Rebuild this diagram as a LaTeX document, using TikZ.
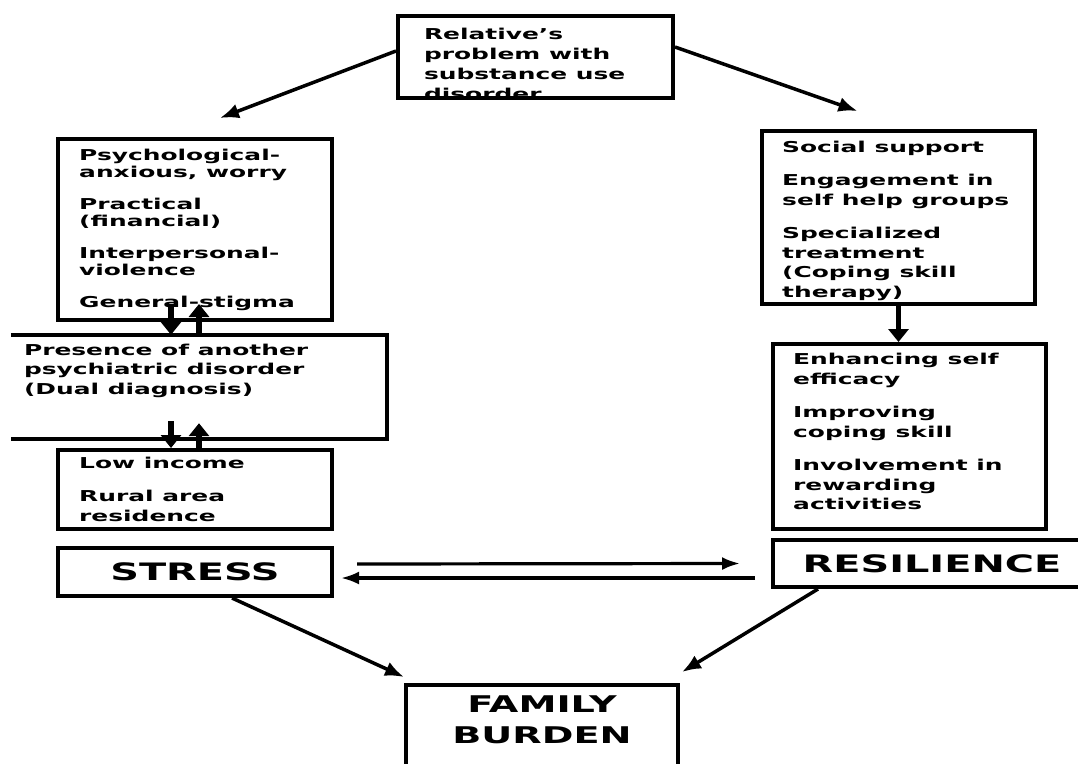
\documentclass[tikz,border=0pt]{standalone}
\usepackage{fontspec}
\newfontfamily\diagfont{DejaVu Sans}[FakeStretch=1.66]
\usetikzlibrary{arrows.meta,positioning}

\begin{document}
\begin{tikzpicture}[x=1pt,y=-1pt,
  box/.style={draw,line width=4pt,minimum width=274pt,inner sep=0pt},
  itemtext/.style={align=left,inner sep=0pt,font=\diagfont\bfseries\fontsize{15}{17.5}\selectfont},
  itemtextwide/.style={itemtext,font=\diagfont\bfseries\fontsize{15}{19.5}\selectfont},
  bigtext/.style={font=\diagfont\bfseries\fontsize{24}{31}\selectfont},
  diagarrow/.style={-{Latex[length=19pt,width=15pt]},line width=3.5pt},
  flowarrow/.style={-{Latex[length=18pt,width=13pt]},line width=3.2pt},
  linkarrow/.style={-{Triangle[length=13pt,width=20pt]},line width=5.5pt}]
\useasboundingbox (0,0) rectangle (1078,763);

% top
\node[box,minimum width=275pt,minimum height=82pt,
  path picture={\node[itemtext,draw=none,minimum width=0pt,minimum height=0pt,font=\diagfont\bfseries\fontsize{15}{20}\selectfont,anchor=north west] (reltext)
    at ([xshift=24pt,yshift=-10pt]path picture bounding box.north west) {Relative’s\\problem with\\substance use\\disorder};}] (rel) at (535.5,57) {};

% stress side
\node[box,minimum height=181pt] (psych) at (195,229.5) {};
\node[itemtext,anchor=west] (psychtext) at ([xshift=23pt]psych.west) {Psychological-\\anxious, worry\\[14pt]Practical\\(financial)\\[14pt]Interpersonal-\\violence\\[14pt]General-stigma};
\node[minimum width=376pt,minimum height=104pt,inner sep=0pt] (presence) at (199,387) {};
\draw[line width=4pt] (presence.north west) -- (presence.north east) -- (presence.south east) -- (presence.south west);
\node[itemtextwide,anchor=north west] (presencetext) at ([xshift=13pt,yshift=-9pt]presence.north west) {Presence of another\\psychiatric disorder\\(Dual diagnosis)};
\node[box,minimum height=79pt] (low) at (195,489.5) {};
\node[itemtext,font=\diagfont\bfseries\fontsize{15}{20}\selectfont,anchor=west] (lowtext) at ([xshift=23pt]low.west) {Low income\\[13pt]Rural area\\residence};
\node[box,minimum height=48pt,bigtext] (stress) at (195,572) {STRESS};

% resilience side
\node[box,minimum width=273pt,minimum height=173pt] (social) at (898.5,217.5) {};
\node[itemtextwide,anchor=west] (socialtext) at ([xshift=22pt,yshift=-3pt]social.west) {Social support\\[14pt]Engagement in\\self help groups\\[14pt]Specialized\\treatment\\(Coping skill\\therapy)};
\node[box,minimum width=273pt,minimum height=185pt] (enh) at (909.5,436.5) {};
\node[itemtextwide,anchor=west] (enhtext) at ([xshift=22pt,yshift=5pt]enh.west) {Enhancing self\\efficacy\\[14pt]Improving\\coping skill\\[14pt]Involvement in\\rewarding\\activities};
\node[box,minimum width=318pt,minimum height=47pt,bigtext] (resil) at (932,563.5) {RESILIENCE};

% outcome
\node[box,minimum width=272pt,minimum height=110pt,anchor=north] (family) at (542,683) {};
\node[bigtext,align=center,font=\diagfont\bfseries\fontsize{23}{30.5}\selectfont] (familytext) at ([yshift=-37pt]family.north) {FAMILY\\BURDEN};

\draw[diagarrow] ([yshift=6pt]rel.west) -- ([xshift=25pt,yshift=19pt]psych.north);
\draw[diagarrow] ([yshift=10pt]rel.east) -- ([xshift=-41pt,yshift=18pt]social.north);
\draw[linkarrow] ([xshift=-24pt,yshift=18pt]psych.south) -- ([xshift=-28pt]presence.north);
\draw[linkarrow] (presence.north) -- ([xshift=4pt,yshift=18pt]psych.south);
\draw[linkarrow] ([xshift=-28pt,yshift=18pt]presence.south) -- ([xshift=-24pt]low.north);
\draw[linkarrow] ([xshift=4pt]low.north) -- ([yshift=16pt]presence.south);
\draw[linkarrow] (social.south) -- (social.south |- enh.north);
\draw[flowarrow] ([xshift=23pt,yshift=8pt]stress.east) -- ([xshift=-31pt]resil.west);
\draw[flowarrow] ([xshift=-16pt,yshift=-14.5pt]resil.west) -- ([xshift=7pt,yshift=-6pt]stress.east);
\draw[diagarrow] ([xshift=37pt]stress.south) -- ([yshift=6pt]family.north west);
\draw[diagarrow] ([xshift=-114pt]resil.south) -- ([xshift=2pt,yshift=11pt]family.north east);
\end{tikzpicture}
\end{document}
